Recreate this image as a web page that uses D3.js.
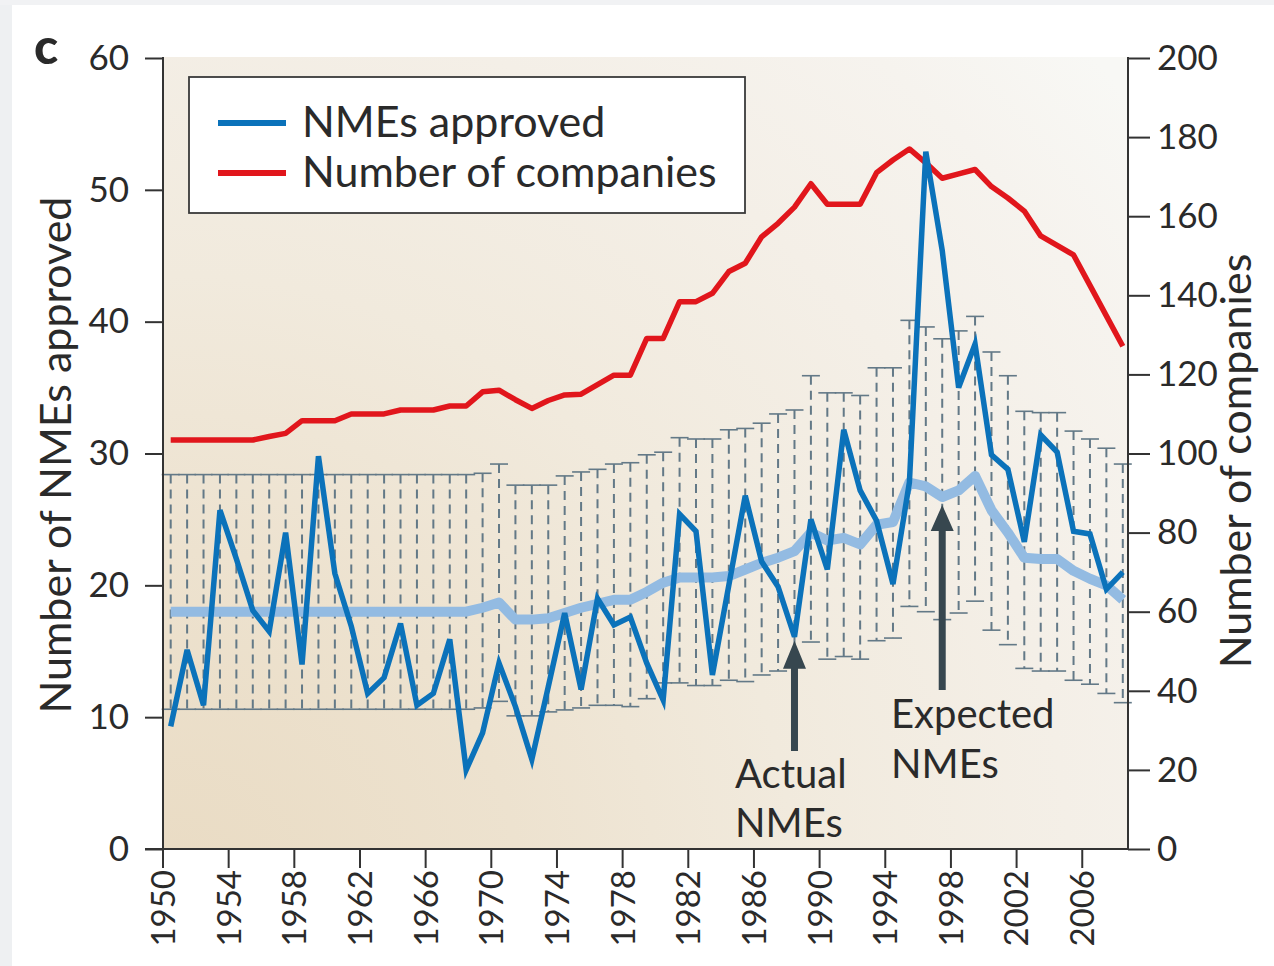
<!DOCTYPE html>
<html>
<head>
<meta charset="utf-8">
<script src="https://cdn.jsdelivr.net/npm/d3@7"></script>
<style>
  html, body { margin: 0; padding: 0; background: #ffffff; }
  svg { display: block; }
  text { font-family: Lato, "Open Sans", sans-serif; fill: #2a2a2a; }
</style>
</head>
<body>
<svg id="chart" width="1274" height="966"></svg>
<script>
// ---------------- DATA ----------------
const years = d3.range(1950, 2009);   // 1950 .. 2008
const xTickLabels = d3.range(1950, 2007, 4);
const leftTicks = [0, 10, 20, 30, 40, 50, 60];
const rightTicks = [0, 20, 40, 60, 80, 100, 120, 140, 160, 180, 200];

// NMEs approved (actual)
const actualNMEs = [
  9.3, 15.1, 10.9, 25.7, 22.0, 18.1, 16.5, 24.0, 14.0, 29.8,
  20.9, 16.9, 11.8, 13.0, 17.1, 10.9, 11.8, 15.9, 6.0, 8.8,
  14.1, 10.8, 6.8, 12.3, 17.9, 12.1, 19.0, 17.0, 17.6, 14.1,
  11.3, 25.4, 24.1, 13.2, 20.0, 26.8, 21.8, 19.9, 16.1, 25.0,
  21.2, 31.8, 27.2, 24.9, 20.1, 27.8, 52.9, 45.4, 35.0, 38.3,
  29.9, 28.8, 23.3, 31.4, 30.1, 24.1, 23.9, 19.7, 21.0
];

// Expected NMEs
const expectedNMEs = [
  18.0, 18.0, 18.0, 18.0, 18.0, 18.0, 18.0, 18.0, 18.0, 18.0,
  18.0, 18.0, 18.0, 18.0, 18.0, 18.0, 18.0, 18.0, 18.0, 18.3,
  18.7, 17.4, 17.4, 17.5, 17.9, 18.3, 18.6, 18.9, 18.9, 19.5,
  20.2, 20.6, 20.6, 20.6, 20.7, 21.2, 21.7, 22.1, 22.6, 24.0,
  23.4, 23.6, 23.1, 24.6, 24.8, 27.8, 27.5, 26.7, 27.2, 28.3,
  25.7, 24.0, 22.1, 22.0, 22.0, 21.1, 20.5, 20.0, 18.9
];

// Upper / lower bounds of expected NMEs
const upperBound = [
  28.4, 28.4, 28.4, 28.4, 28.4, 28.4, 28.4, 28.4, 28.4, 28.4,
  28.4, 28.4, 28.4, 28.4, 28.4, 28.4, 28.4, 28.4, 28.4, 28.5,
  29.2, 27.6, 27.6, 27.6, 28.3, 28.6, 28.8, 29.2, 29.3, 29.9,
  30.1, 31.2, 31.1, 31.1, 31.8, 31.9, 32.3, 33.0, 33.3, 35.9,
  34.6, 34.6, 34.4, 36.5, 36.5, 40.1, 39.6, 38.7, 39.3, 40.4,
  37.7, 35.9, 33.2, 33.1, 33.1, 31.7, 31.1, 30.4, 29.2
];
const lowerBound = [
  10.6, 10.6, 10.6, 10.6, 10.6, 10.6, 10.6, 10.6, 10.6, 10.6,
  10.6, 10.6, 10.6, 10.6, 10.6, 10.6, 10.6, 10.6, 10.6, 10.7,
  11.2, 10.1, 10.1, 10.4, 10.55, 10.7, 10.9, 10.9, 10.8, 11.4,
  12.6, 12.6, 12.4, 12.4, 12.8, 12.7, 13.2, 13.5, 13.8, 15.7,
  14.4, 14.6, 14.4, 15.8, 16.0, 18.4, 18.0, 17.4, 17.9, 18.8,
  16.6, 15.5, 13.7, 13.5, 13.5, 12.8, 12.5, 11.8, 11.1
];

// Number of companies (right axis)
const companies = [
  103.4, 103.4, 103.4, 103.4, 103.4, 103.4, 104.3, 105.1, 108.3, 108.3,
  108.3, 110.0, 110.0, 110.0, 111.0, 111.0, 111.0, 112.0, 112.0, 115.6,
  116.0, 113.6, 111.4, 113.4, 114.8, 115.0, 117.4, 119.8, 119.8, 129.1,
  129.1, 138.4, 138.4, 140.5, 146.0, 148.1, 154.8, 158.2, 162.3, 168.2,
  163.0, 163.0, 163.0, 171.0, 174.2, 177.0, 173.5, 169.6, 170.7, 171.8,
  167.5, 164.6, 161.3, 155.0, 152.6, 150.2, 142.5, 134.8, 127.1
];

const seriesNames = ["NMEs approved", "Number of companies"];
const annotations = [
  { lines: ["Actual", "NMEs"], year: 1988, series: "actual" },
  { lines: ["Expected", "NMEs"], year: 1997, series: "expected" }
];

// ---------------- LAYOUT ----------------
const W = 1274, H = 966;
const plot = { left: 163, right: 1128, top: 57, bottom: 849 };

const svg = d3.select("#chart");

const x = d3.scaleLinear().domain([1950, 2009]).range([162.5, 1131]);
const xm = yr => x(yr + 0.5);   // each year's value plotted at mid-year
const yL = d3.scaleLinear().domain([0, 60]).range([849, 58]);
const yR = d3.scaleLinear().domain([0, 200]).range([849, 58]);

// page edge artefacts
svg.append("rect").attr("x", 0).attr("y", 0).attr("width", 12).attr("height", H).attr("fill", "#eef0f2");
svg.append("rect").attr("x", 0).attr("y", 0).attr("width", W).attr("height", 5).attr("fill", "#f1f2f4");

// ---------------- BACKGROUND ----------------
const defs = svg.append("defs");
const grad = defs.append("radialGradient")
  .attr("id", "bg").attr("gradientUnits", "userSpaceOnUse")
  .attr("cx", 170).attr("cy", 900).attr("r", 1250);
[[0, "#e9dbc3"], [0.28, "#ede2cf"], [0.5, "#f1eadd"], [0.72, "#f4efe7"], [0.88, "#f6f3ee"], [1, "#f8f8f5"]]
  .forEach(([o, c]) => grad.append("stop").attr("offset", o).attr("stop-color", c));

svg.append("rect")
  .attr("x", plot.left).attr("y", plot.top)
  .attr("width", plot.right - plot.left).attr("height", plot.bottom - plot.top)
  .attr("fill", "url(#bg)");

// ---------------- ERROR BARS ----------------
const eb = svg.append("g").attr("stroke", "#637987").attr("fill", "none");
years.forEach((yr, i) => {
  const cx = xm(yr);
  eb.append("line")
    .attr("x1", cx).attr("x2", cx)
    .attr("y1", yL(upperBound[i])).attr("y2", yL(lowerBound[i]))
    .attr("stroke-width", 2).attr("stroke-dasharray", "9,6");
  [upperBound[i], lowerBound[i]].forEach(v => {
    eb.append("line")
      .attr("x1", cx - 9).attr("x2", cx + 9)
      .attr("y1", yL(v)).attr("y2", yL(v))
      .attr("stroke-width", 1.6);
  });
});

// ---------------- LINES ----------------
const lineL = d3.line().x((d, i) => xm(years[i])).y(d => yL(d));
const lineR = d3.line().x((d, i) => xm(years[i])).y(d => yR(d));

svg.append("path").datum(expectedNMEs)
  .attr("d", lineL).attr("fill", "none")
  .attr("stroke", "#93bbe2").attr("stroke-width", 10).attr("stroke-linejoin", "round");

svg.append("path").datum(companies)
  .attr("d", lineR).attr("fill", "none")
  .attr("stroke", "#e1161c").attr("stroke-width", 5.5).attr("stroke-linejoin", "round");

svg.append("path").datum(actualNMEs)
  .attr("d", lineL).attr("fill", "none")
  .attr("stroke", "#0b72ba").attr("stroke-width", 5.5).attr("stroke-linejoin", "miter");

// ---------------- ANNOTATIONS ----------------
function arrow(cx, tipY, baseY, headLen) {
  const sw = 3.5, hw = 11.5;
  return `M${cx},${tipY} L${cx + hw},${tipY + headLen} L${cx + sw},${tipY + headLen} L${cx + sw},${baseY} ` +
         `L${cx - sw},${baseY} L${cx - sw},${tipY + headLen} L${cx - hw},${tipY + headLen} Z`;
}
const ann = svg.append("g");
// Actual NMEs
{
  const a = annotations[0];
  const i = years.indexOf(a.year);
  const cx = xm(a.year);
  const tip = yL(actualNMEs[i]) + 4;
  ann.append("path").attr("d", arrow(cx, tip, 751, 28)).attr("fill", "#37474f");
  a.lines.forEach((t, k) => ann.append("text")
    .attr("x", 735).attr("y", 788 + k * 49).attr("font-size", 40).text(t));
}
// Expected NMEs
{
  const a = annotations[1];
  const i = years.indexOf(a.year);
  const cx = xm(a.year);
  const tip = yL(expectedNMEs[i]) + 8;
  ann.append("path").attr("d", arrow(cx, tip, 690, 26)).attr("fill", "#37474f");
  a.lines.forEach((t, k) => ann.append("text")
    .attr("x", 891).attr("y", 728 + k * 50).attr("font-size", 40).text(t));
}

// ---------------- AXES ----------------
const axisColor = "#333333";

// left axis
const gL = svg.append("g").attr("transform", `translate(${plot.left},0)`)
  .call(d3.axisLeft(yL).tickValues(leftTicks).tickSize(18).tickPadding(16));
// right axis
const gR = svg.append("g").attr("transform", `translate(${plot.right},0)`)
  .call(d3.axisRight(yR).tickValues(rightTicks).tickSize(22).tickPadding(7));
// bottom axis
const gB = svg.append("g").attr("transform", `translate(0,${plot.bottom})`)
  .call(d3.axisBottom(x).tickValues(xTickLabels).tickFormat(d3.format("d")).tickSize(19));

[gL, gR, gB].forEach(g => {
  g.select(".domain").remove();
  g.selectAll(".tick line").attr("stroke", axisColor).attr("stroke-width", 2);
  g.selectAll(".tick text").attr("font-family", "Lato, sans-serif").attr("fill", "#2a2a2a");
});
gL.selectAll(".tick text").attr("font-size", 35);
gR.selectAll(".tick text").attr("font-size", 35);
gB.selectAll(".tick text")
  .attr("font-size", 33)
  .attr("transform", "rotate(-90)")
  .attr("text-anchor", "end")
  .attr("x", -21).attr("y", 0).attr("dy", "0.36em");

// axis lines
svg.append("line").attr("x1", plot.left).attr("x2", plot.left).attr("y1", 57).attr("y2", plot.bottom)
  .attr("stroke", axisColor).attr("stroke-width", 2);
svg.append("line").attr("x1", plot.right).attr("x2", plot.right).attr("y1", 57).attr("y2", plot.bottom)
  .attr("stroke", axisColor).attr("stroke-width", 2);
svg.append("line").attr("x1", 145).attr("x2", plot.right + 1).attr("y1", plot.bottom).attr("y2", plot.bottom)
  .attr("stroke", axisColor).attr("stroke-width", 2);

// axis titles
svg.append("text").attr("transform", "translate(71,455) rotate(-90)")
  .attr("text-anchor", "middle").attr("font-size", 43).text("Number of NMEs approved");
svg.append("text").attr("transform", "translate(1251,461) rotate(-90)")
  .attr("text-anchor", "middle").attr("font-size", 43).text("Number of companies");

// panel letter
svg.append("text").attr("x", 34).attr("y", 64).attr("font-size", 50)
  .attr("font-weight", 900).attr("fill", "#1a1a1a").text("c");

// ---------------- LEGEND ----------------
const lg = svg.append("g");
lg.append("rect").attr("x", 189).attr("y", 77).attr("width", 556).attr("height", 136)
  .attr("fill", "#ffffff").attr("stroke", "#3a3a3a").attr("stroke-width", 1.8);
const legendColors = ["#0b72ba", "#e1161c"];
seriesNames.forEach((name, k) => {
  const cy = 123 + k * 50;
  lg.append("line").attr("x1", 218).attr("x2", 286).attr("y1", cy).attr("y2", cy)
    .attr("stroke", legendColors[k]).attr("stroke-width", 6);
  lg.append("text").attr("x", 302).attr("y", cy + 14).attr("font-size", 43).text(name);
});
</script>
</body>
</html>
